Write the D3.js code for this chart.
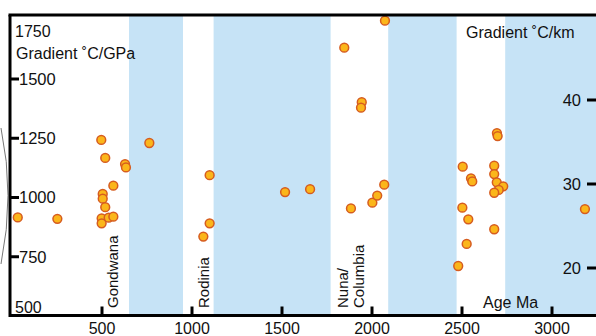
<!DOCTYPE html>
<html>
<head>
<meta charset="utf-8">
<script src="https://cdn.jsdelivr.net/npm/d3@7/dist/d3.min.js"></script>
<style>
    html, body { margin: 0; padding: 0; background: #fff; }
    svg { display: block; font-family: "Liberation Sans", Arial, sans-serif; }
</style>
</head>
<body>
<div id="chart"></div>
<script>
// 年龄 (Ma)
var ages = [32, 252, 496, 518, 563, 504, 504, 518, 498, 498, 537, 563, 628, 633, 763,
    1098, 1098, 1063, 1517, 1656, 1883, 2002, 2029, 2068, 2072, 1846, 1943, 1939,
    2694, 2698, 2504, 2550, 2557, 2679, 2679, 2693, 2729, 2704, 2679, 2502, 2535,
    2679, 2526, 2479, 3183];
// 梯度 (°C/GPa)
var gradients = [916, 910, 1243, 1167, 1050, 1015, 995, 959, 912, 891, 915, 919, 1141, 1127, 1230,
    1094, 891, 835, 1023, 1035, 954, 978, 1008, 1054, 1746, 1632, 1402, 1379,
    1272, 1259, 1130, 1081, 1068, 1134, 1099, 1064, 1047, 1032, 1020, 957, 908,
    866, 804, 711, 951];
// 蓝色区间 (Ma)
var bandStarts = [650, 1120, 2090, 2740];
var bandEnds = [950, 1770, 2470, 3400];
// 超大陆
var supercontinents = [["Gondwana"], ["Rodinia"], ["Nuna/", "Columbia"]];
var superAges = [560, 1065, 1925];
// 刻度
var ageTicks = [500, 1000, 1500, 2000, 2500, 3000];
var gpaTicks = [750, 1000, 1250, 1500];
var kmTicks = [20, 30, 40];

(function (window, d3) {
    "use strict";
    var W = 596, H = 336;
    var frame = {left: 10, top: 15, bottom: 315.5};

    var svg = d3.select("#chart").append("svg").attr("width", W).attr("height", H);

    var x = d3.scaleLinear().domain([0, 3000]).range([12, 552]);
    var y = d3.scaleLinear().domain([500, 1500]).range([316, 79]);
    var yKm = d3.scaleLinear().domain([20, 40]).range([268, 100]);

    // 背景区间
    svg.append("g").selectAll("rect").data(bandStarts).enter().append("rect")
        .attr("x", function (d) { return x(d); })
        .attr("y", frame.top)
        .attr("width", function (d, i) { return Math.min(x(bandEnds[i]), W) - x(d); })
        .attr("height", frame.bottom - frame.top)
        .style("fill", "#c6e3f6");

    // 左侧弧线
    svg.append("path").attr("d", "M1,128 Q15,195 1,264")
        .attr("fill", "none").attr("stroke", "#777").attr("stroke-width", 1);

    // 超大陆名称
    supercontinents.forEach(function (lines, i) {
        var t = svg.append("text")
            .attr("transform", "translate(" + x(superAges[i]) + "," + 308 + ") rotate(-90)")
            .attr("font-size", 15).attr("fill", "#111");
        lines.forEach(function (s, j) {
            t.append("tspan").attr("x", 0).attr("y", (j - lines.length + 1) * 15.5 + 5).text(s);
        });
    });

    // 数据点
    svg.append("g").selectAll("circle").data(ages).enter().append("circle")
        .attr("cx", function (d) { return x(d); })
        .attr("cy", function (d, i) { return y(gradients[i]); })
        .attr("r", 4.4)
        .attr("fill", "#fbb61a")
        .attr("stroke", "#d65c1f")
        .attr("stroke-width", 1.5);

    // 标签
    var labels = [
        {t: "1750", x: 15, y: 37},
        {t: "Gradient ˚C/GPa", x: 16, y: 59},
        {t: "500", x: 15, y: 313},
        {t: "Gradient ˚C/km", x: 466, y: 38},
        {t: "Age Ma", x: 483, y: 308}
    ];
    svg.append("g").selectAll("text").data(labels).enter().append("text")
        .attr("x", function (d) { return d.x; })
        .attr("y", function (d) { return d.y; })
        .attr("font-size", 16).attr("fill", "#111")
        .text(function (d) { return d.t; });

    // 边框
    function hline(x1, x2, yy) {
        svg.append("line").attr("x1", x1).attr("x2", x2).attr("y1", yy).attr("y2", yy)
            .attr("stroke", "#000").attr("stroke-width", 3);
    }
    function vline(xx, y1, y2) {
        svg.append("line").attr("x1", xx).attr("x2", xx).attr("y1", y1).attr("y2", y2)
            .attr("stroke", "#000").attr("stroke-width", 3);
    }
    hline(frame.left - 1.5, W, frame.top);
    vline(frame.left, frame.top, frame.bottom + 1.5);
    hline(frame.left, W, frame.bottom);

    // 底部刻度
    ageTicks.forEach(function (d) {
        vline(x(d), frame.bottom - 9, frame.bottom);
    });
    svg.append("g").selectAll("text").data(ageTicks).enter().append("text")
        .attr("x", function (d) { return x(d); })
        .attr("y", 334)
        .attr("text-anchor", "middle")
        .attr("font-size", 16).attr("fill", "#111")
        .text(function (d) { return d; });

    // 左轴刻度
    gpaTicks.forEach(function (d) {
        hline(frame.left, frame.left + 9, y(d));
    });
    svg.append("g").selectAll("text").data(gpaTicks).enter().append("text")
        .attr("x", frame.left + 9)
        .attr("y", function (d) { return y(d); })
        .attr("dy", "0.36em")
        .attr("font-size", 16.5).attr("fill", "#111")
        .text(function (d) { return d; });

    // 右轴刻度
    kmTicks.forEach(function (d) {
        hline(W - 9, W, yKm(d));
    });
    svg.append("g").selectAll("text").data(kmTicks).enter().append("text")
        .attr("x", W - 15)
        .attr("y", function (d) { return yKm(d); })
        .attr("dy", "0.36em")
        .attr("text-anchor", "end")
        .attr("font-size", 16.5).attr("fill", "#111")
        .text(function (d) { return d; });
})(window, d3);
</script>
</body>
</html>
